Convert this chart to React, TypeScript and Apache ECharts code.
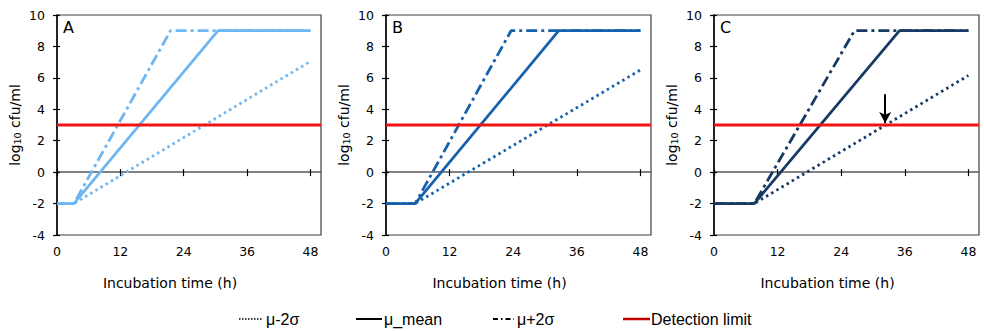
import React, { useEffect, useRef } from "react";
import * as echarts from "echarts";

// ---- data ----
const panelNames = ["A", "B", "C"];
const panelColors = ["#6DB6F2", "#1661AE", "#163A63"];
const xTicks = [0, 12, 24, 36, 48];
const xMin = 0;
const xMax = 50;
const yMin = -4;
const yMax = 10;
const yStep = 2;
const detectionLimit = 3;

// μ-2σ (lower), μ_mean, μ+2σ (upper) : [time (h), log10 cfu/ml]
const lowerA = [[0, -2], [3.2, -2], [48, 7.05]];
const meanA = [[0, -2], [3.2, -2], [30.5, 9], [48, 9]];
const upperA = [[0, -2], [3.2, -2], [21.5, 9], [48, 9]];

const lowerB = [[0, -2], [5.5, -2], [48, 6.5]];
const meanB = [[0, -2], [5.5, -2], [32.6, 9], [48, 9]];
const upperB = [[0, -2], [5.5, -2], [23.6, 9], [48, 9]];

const lowerC = [[0, -2], [7.6, -2], [48, 6.15]];
const meanC = [[0, -2], [7.6, -2], [35, 9], [48, 9]];
const upperC = [[0, -2], [7.6, -2], [26.5, 9], [48, 9]];

const lowers = [lowerA, lowerB, lowerC];
const means = [meanA, meanB, meanC];
const uppers = [upperA, upperB, upperC];

// arrow in panel C: from, to
const arrowC = [[32.3, 4.95], [32.3, 3.12]];

const legendNames = ["μ-2σ", "μ_mean", "μ+2σ", "Detection limit"];

// ---- layout ----
const grids = [
  { left: 57, top: 15, width: 264, height: 220 },
  { left: 386, top: 15, width: 265, height: 220 },
  { left: 714, top: 15, width: 265, height: 220 },
];
const AXIS_FONT = "'DejaVu Sans', Verdana, sans-serif";
const LEGEND_FONT = "'Liberation Sans', Arial, sans-serif";
const DOT = [2.5, 3.5];
const DASHDOT = [11, 4, 3, 4];
const LW = 2.8;
const FS = 12.5;
const NFS = 14;

function buildOption() {
  const grid: any[] = [];
  const xAxis: any[] = [];
  const yAxis: any[] = [];
  const series: any[] = [];

  grids.forEach((g) => {
    grid.push({ ...g, show: true, borderColor: "#404040", borderWidth: 1.2, backgroundColor: "transparent" });
  });
  // overlay grids for inner half of the cross ticks
  grids.forEach((g) => {
    grid.push({ ...g, show: false });
  });

  grids.forEach((_, i) => {
    xAxis.push({
      gridIndex: i,
      type: "value",
      min: xMin,
      max: xMax,
      interval: 12,
      axisLine: { show: true, lineStyle: { color: "#595959", width: 1.5 } },
      axisTick: { show: true, customValues: xTicks, length: 4, lineStyle: { color: "#000", width: 1.2 } },
      axisLabel: {
        customValues: xTicks,
        formatter: (v: number) => (v > 48 ? "" : String(v)),
        fontFamily: AXIS_FONT,
        fontSize: FS,
        color: "#000",
        margin: 10,
      },
      splitLine: { show: false },
      name: "Incubation time (h)",
      nameLocation: "middle",
      nameGap: 41,
      nameTextStyle: { fontFamily: AXIS_FONT, fontSize: NFS, color: "#000", padding: [0, 38, 0, 0] },
    });
    yAxis.push({
      gridIndex: i,
      type: "value",
      min: yMin,
      max: yMax,
      interval: yStep,
      axisLine: { show: true, lineStyle: { color: "#000", width: 1.5 } },
      axisTick: { show: true, length: 4, lineStyle: { color: "#000", width: 1.2 } },
      axisLabel: { fontFamily: AXIS_FONT, fontSize: FS, color: "#000", margin: 12 },
      splitLine: { show: false },
      name: "{n|log}{s|10}{n| cfu/ml}",
      nameLocation: "middle",
      nameGap: 35,
      nameTextStyle: {
        fontFamily: AXIS_FONT,
        color: "#000",
        rich: {
          n: { fontFamily: AXIS_FONT, fontSize: NFS, color: "#000", verticalAlign: "bottom", lineHeight: 18 },
          s: { fontFamily: AXIS_FONT, fontSize: 9.5, color: "#000", verticalAlign: "bottom", lineHeight: 13 },
        },
      },
    });
  });
  grids.forEach((_, i) => {
    xAxis.push({
      gridIndex: i + 3,
      type: "value",
      min: xMin,
      max: xMax,
      interval: 12,
      axisLine: { show: false },
      axisTick: { show: true, inside: true, customValues: xTicks, length: 3, lineStyle: { color: "#000", width: 1.2 } },
      axisLabel: { show: false },
      splitLine: { show: false },
    });
    yAxis.push({
      gridIndex: i + 3,
      type: "value",
      min: yMin,
      max: yMax,
      interval: yStep,
      axisLine: { show: false },
      axisTick: { show: true, inside: true, length: 3, lineStyle: { color: "#000", width: 1.2 } },
      axisLabel: { show: false },
      splitLine: { show: false },
    });
  });

  grids.forEach((_, i) => {
    const color = panelColors[i];
    const common = {
      type: "line",
      xAxisIndex: i,
      yAxisIndex: i,
      showSymbol: false,
      symbol: "none",
      silent: true,
    };
    series.push({
      ...common,
      name: legendNames[0],
      data: lowers[i],
      z: 2,
      lineStyle: { color, width: LW, type: DOT },
      ...(i === 2
        ? {
            markLine: {
              silent: true,
              symbol: ["none", "arrow"],
              symbolSize: [9, 11],
              label: { show: false },
              lineStyle: { color: "#000", width: 2, type: "solid" },
              z: 10,
              data: [[{ coord: arrowC[0] }, { coord: arrowC[1] }]],
            },
          }
        : {}),
    });
    series.push({
      ...common,
      name: legendNames[2],
      data: uppers[i],
      z: 3,
      lineStyle: { color, width: LW, type: DASHDOT },
    });
    series.push({
      ...common,
      name: legendNames[1],
      data: means[i],
      z: 4,
      lineStyle: { color, width: LW, type: "solid" },
    });
    series.push({
      ...common,
      name: legendNames[3],
      data: [[xMin, detectionLimit], [xMax, detectionLimit]],
      z: 5,
      lineStyle: { color: "#F01414", width: 3, type: "solid" },
    });
  });

  const graphic: any[] = [];
  grids.forEach((g, i) => {
    graphic.push({
      type: "text",
      left: g.left + 6,
      top: 19,
      style: { text: panelNames[i], font: `16px ${AXIS_FONT}`, fill: "#000" },
    });
  });
  const ly = 319;
  const legendItems = [
    { x1: 239, x2: 263, tx: 266, dash: [1.5, 1.5], color: "#000", w: 1.3 },
    { x1: 356, x2: 382, tx: 384, dash: null, color: "#000", w: 2 },
    { x1: 493, x2: 514, tx: 517, dash: [5, 3, 1.5, 3], color: "#000", w: 2 },
    { x1: 623, x2: 650, tx: 651, dash: null, color: "#C00000", w: 2.5 },
  ];
  legendItems.forEach((it, k) => {
    graphic.push({
      type: "line",
      shape: { x1: it.x1, y1: ly, x2: it.x2, y2: ly },
      style: { stroke: it.color, lineWidth: it.w, lineDash: it.dash || undefined },
    });
    graphic.push({
      type: "text",
      x: it.tx,
      y: ly,
      style: {
        text: legendNames[k],
        font: `16px ${LEGEND_FONT}`,
        fill: "#000",
        textVerticalAlign: "middle",
        verticalAlign: "middle",
      },
    });
  });

  return {
    animation: false,
    backgroundColor: "#fff",
    grid,
    xAxis,
    yAxis,
    series,
    graphic,
  };
}

export default function App() {
  const ref = useRef<HTMLDivElement>(null);
  useEffect(() => {
    if (!ref.current) return;
    const chart = echarts.init(ref.current, null, { renderer: "svg" });
    chart.setOption(buildOption() as any);
    return () => chart.dispose();
  }, []);
  return (
    <div
      ref={ref}
      style={{ position: "fixed", left: 0, top: 0, width: 984, height: 331, background: "#fff" }}
    />
  );
}
